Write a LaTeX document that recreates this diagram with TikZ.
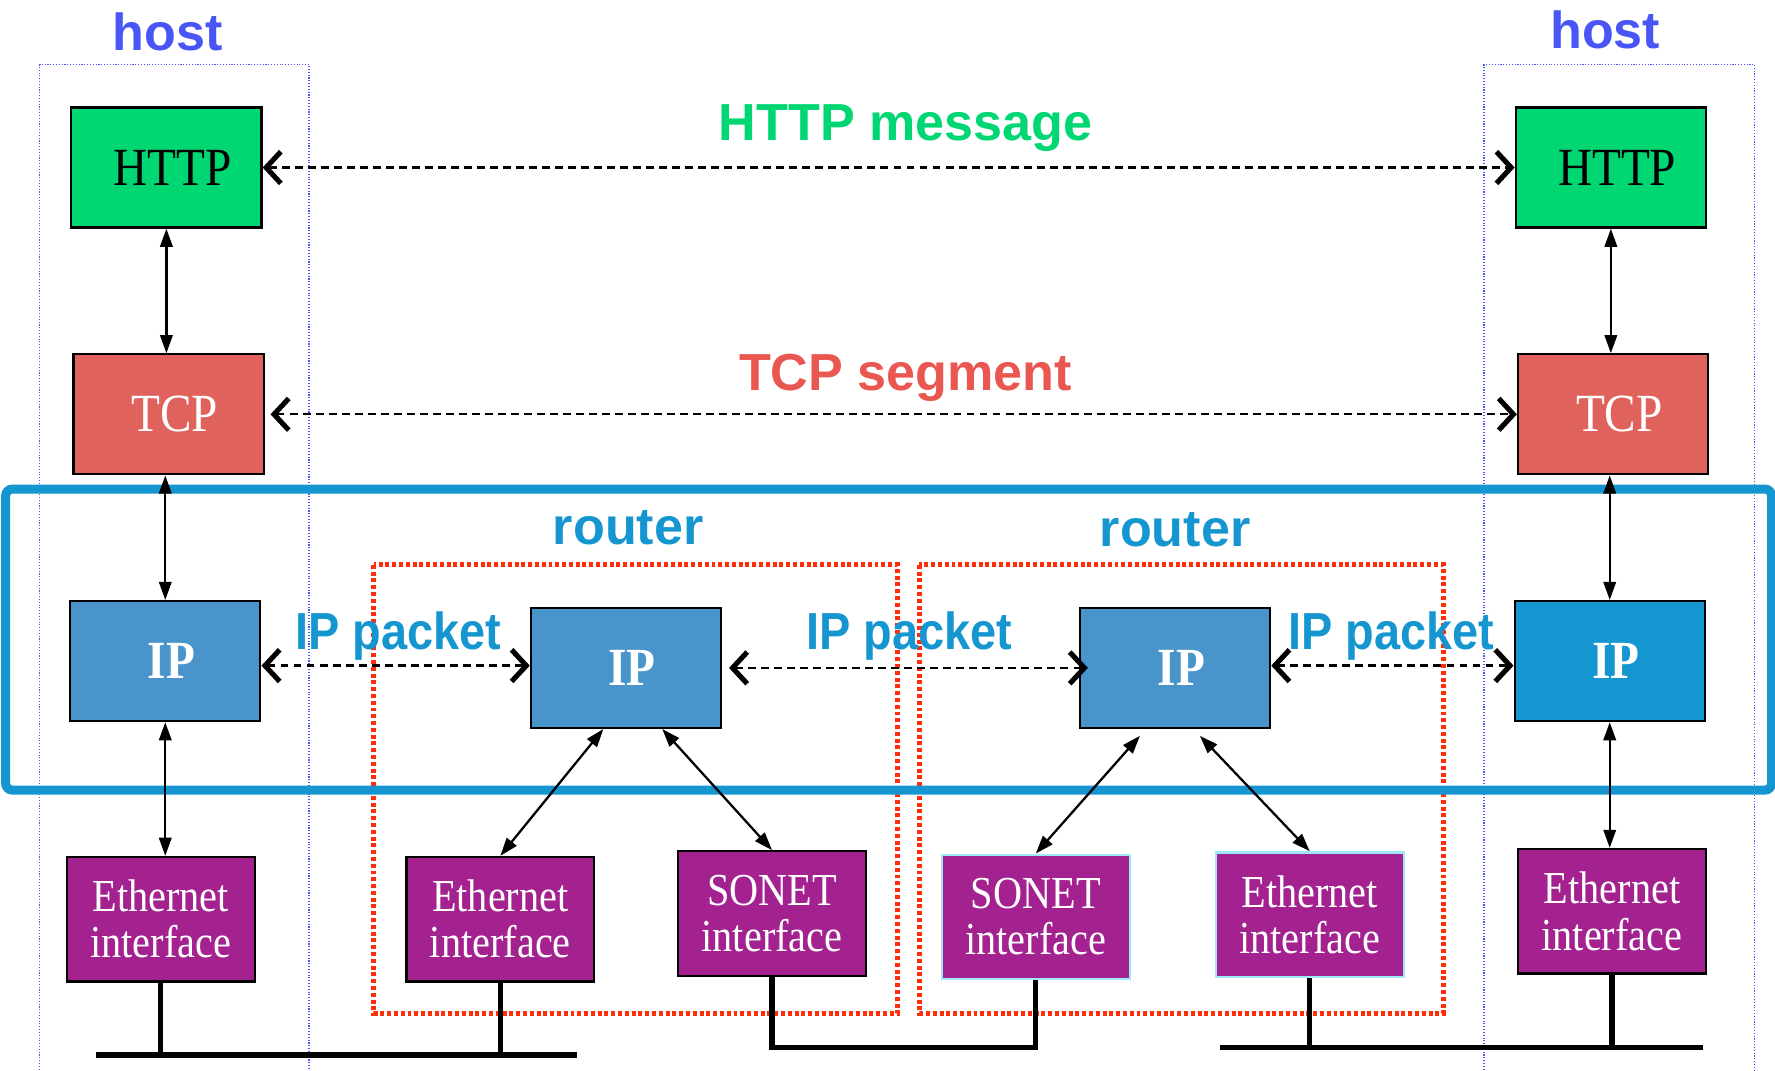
\documentclass[tikz,border=0pt]{standalone}
\usepackage{fontspec}
\setmainfont{Liberation Serif}
\newfontfamily\labelfont{Liberation Sans}
\newfontfamily\packetfont[FakeStretch=0.9]{Liberation Sans}
\newfontfamily\boxfont[FakeStretch=0.88]{Liberation Serif}
\usetikzlibrary{arrows.meta}

\definecolor{hostblue}{RGB}{74,85,245}
\definecolor{httpgreen}{RGB}{0,214,114}
\definecolor{tcpred}{RGB}{224,98,92}
\definecolor{segred}{RGB}{234,86,80}
\definecolor{ipblue}{RGB}{74,148,204}
\definecolor{netblue}{RGB}{21,150,208}
\definecolor{ifpurple}{RGB}{163,34,143}
\definecolor{routerred}{RGB}{255,45,10}
\definecolor{ifcyan}{RGB}{160,232,248}

\begin{document}
\begin{tikzpicture}[x=0.1mm, y=-0.1mm,
  box/.style={draw=black, line width=0.2mm, minimum width=16.8mm, minimum height=10.6mm, inner sep=0pt},
  layer/.style={box, font=\boxfont\fontsize{13.5}{14}\selectfont, execute at begin node={\hspace*{1.1mm}}},
  ipbox/.style={layer, fill=ipblue, text=white, font=\boxfont\bfseries\fontsize{13.5}{14}\selectfont},
  iface/.style={box, fill=ifpurple, text=white, minimum width=16.6mm, minimum height=11mm, align=center, font=\boxfont\fontsize{11.5}{11.6}\selectfont},
  lbl/.style={font=\labelfont\bfseries\fontsize{13.1}{14}\selectfont, inner sep=0pt, anchor=base},
  pktlbl/.style={lbl, text=netblue, font=\packetfont\bfseries\fontsize{13.1}{14}\selectfont},
  peer/.style={dash pattern=on 0.7mm off 0.45mm, line width=0.2mm, {Straight Barb[length=1.3mm,width=2.8mm,line width=0.45mm]}-{Straight Barb[length=1.3mm,width=2.8mm,line width=0.45mm]}},
  stack/.style={line width=0.2mm, {Triangle[length=1.6mm,width=1.1mm]}-{Triangle[length=1.6mm,width=1.1mm]}},
  bus/.style={line width=0.45mm},
  hostbox/.style={draw=hostblue, line width=0.12mm, dash pattern=on 0.1mm off 0.15mm},
  routerbox/.style={draw=routerred, line width=0.45mm, dash pattern=on 0.35mm off 0.25mm}]
\useasboundingbox (0,0) rectangle (1568,946);

% hosts and routers
\draw[hostbox] (35,950) |- (273,57) -- (273,950);
\draw[hostbox] (1311,950) |- (1550,57) -- (1550,950);
\draw[routerbox] (330,499) rectangle (793,895);
\draw[routerbox] (812,499) rectangle (1275,895);
\draw[netblue, line width=0.8mm, rounded corners=0.6mm] (5,432) rectangle (1565,698);

\node[lbl, text=hostblue] (hostL) at (148,45) {host};
\node[lbl, text=hostblue] (hostR) at (1418,43) {host};
\node[lbl, text=httpgreen] (httpmsg) at (800,124) {HTTP message};
\node[lbl, text=segred] (tcpseg) at (800,345) {TCP segment};
\node[lbl, text=netblue] (routerA) at (555,481) {router};
\node[lbl, text=netblue] (routerB) at (1038,483) {router};

% left host
\node[layer, fill=httpgreen] (httpL) at (147,148) {HTTP};
\node[layer, fill=tcpred, text=white] (tcpL) at (149,366) {TCP};
\node[ipbox] (ipL) at (146,584) {IP};
\node[iface] (ethL) at (142,812) {Ethernet\\interface};

% right host
\node[layer, fill=httpgreen] (httpR) at (1423,148) {HTTP};
\node[layer, fill=tcpred, text=white] (tcpR) at (1425,366) {TCP};
\node[ipbox, fill=netblue] (ipR) at (1422,584) {IP};
\node[iface] (ethR) at (1424,805) {Ethernet\\interface};

% routers
\node[ipbox] (ipA) at (553,590) {IP};
\node[iface] (ethA) at (442,812) {Ethernet\\interface};
\node[iface] (sonetA) at (682,807) {SONET\\interface};
\node[ipbox] (ipB) at (1038,590) {IP};
\node[iface, draw=ifcyan] (sonetB) at (915,810) {SONET\\interface};
\node[iface, draw=ifcyan] (ethB) at (1157,808) {Ethernet\\interface};

\node[pktlbl] (pktA) at (352,574) {IP packet};
\node[pktlbl] (pktB) at (803,574) {IP packet};
\node[pktlbl] (pktC) at (1229,574) {IP packet};

\draw[stack] (httpL.south) -- (httpL.south |- tcpL.north);
\draw[stack] (tcpL.south -| ipL.north) -- (ipL.north);
\draw[stack] (ipL.south) -- (ipL.south |- ethL.north);
\draw[stack] (httpR.south) -- (httpR.south |- tcpR.north);
\draw[stack] (tcpR.south -| ipR.north) -- (ipR.north);
\draw[stack] (ipR.south) -- (ipR.south |- ethR.north);
\draw[stack] ([xshift=-2mm]ipA.south) -- (ethA.north);
\draw[stack] ([xshift=3.2mm]ipA.south) -- (sonetA.north);
\draw[stack] ([xshift=-3.1mm,yshift=-0.6mm]ipB.south) -- (sonetB.north);
\draw[stack] ([xshift=2.2mm,yshift=-0.6mm]ipB.south) -- (ethB.north);

\draw[peer] (httpL.east) -- (httpR.west);
\draw[peer] ([xshift=0.5mm]tcpL.east) -- (tcpR.west);
\draw[peer] ([yshift=-0.4mm]ipL.east) -- ([yshift=-0.4mm]ipL.east -| ipA.west);
\draw[peer] ([xshift=0.6mm]ipA.east) -- ([xshift=0.8mm]ipB.west);
\draw[peer] ([yshift=0.2mm]ipB.east) -- ([yshift=0.2mm]ipB.east -| ipR.west);

% links
\coordinate (busL) at (85,932);
\coordinate (busLe) at (510,932);
\coordinate (busM) at (800,925);
\coordinate (busR) at (1078,925);
\coordinate (busRe) at (1504,925);
\draw[bus] (busL) -- (busLe);
\draw[bus] (ethL.south) -- (ethL.south |- busL);
\draw[bus] (ethA.south) -- (ethA.south |- busL);
\draw[bus] (sonetA.south) -- (sonetA.south |- busM) -- (sonetB.south |- busM) -- (sonetB.south);
\draw[bus] (busR) -- (busRe);
\draw[bus] (ethB.south) -- (ethB.south |- busR);
\draw[bus] (ethR.south) -- (ethR.south |- busR);
\end{tikzpicture}
\end{document}
